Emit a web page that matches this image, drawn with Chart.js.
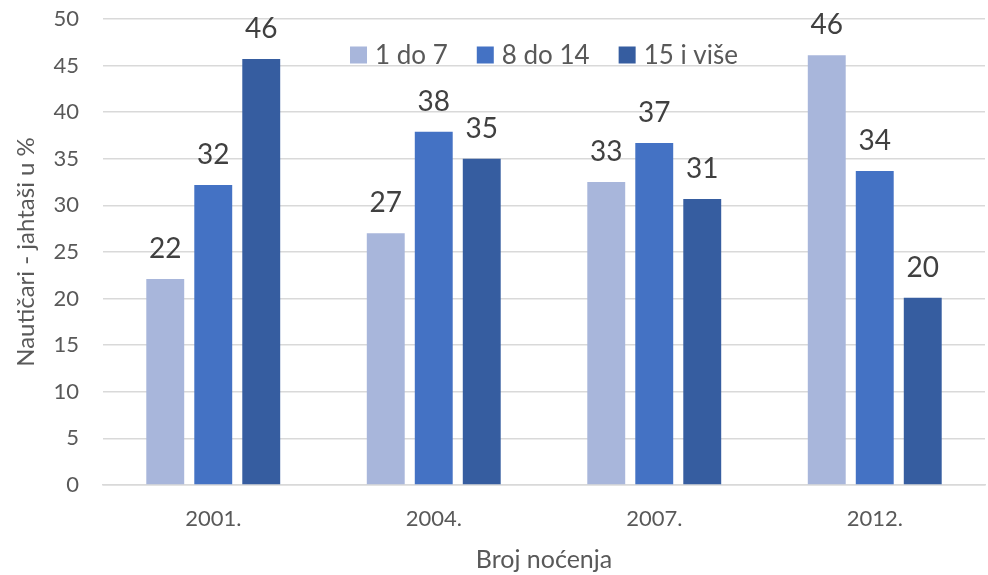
<!DOCTYPE html>
<html>
<head>
<meta charset="utf-8">
<script src="https://cdn.jsdelivr.net/npm/chart.js@4/dist/chart.umd.min.js"></script>
<style>
html,body{margin:0;padding:0;background:#fff;}
#wrap{width:988px;height:575px;position:relative;}
</style>
</head>
<body>
<div id="wrap"><canvas id="c" width="988" height="575"></canvas></div>
<script>
const categories = ['2001.', '2004.', '2007.', '2012.'];
const seriesNames = ['1 do 7', '8 do 14', '15 i više'];
const series1 = [22.1, 27.0, 32.5, 46.1];
const series2 = [32.2, 37.9, 36.7, 33.7];
const series3 = [45.7, 35.0, 30.7, 20.1];
const yTicks = [0, 5, 10, 15, 20, 25, 30, 35, 40, 45, 50];
const colors = ['#A8B6DB', '#4472C4', '#365DA0'];
const FONT = 'Lato, "Open Sans", sans-serif';

const valueLabels = {
  id: 'valueLabels',
  afterDatasetsDraw(chart) {
    const ctx = chart.ctx;
    ctx.save();
    ctx.font = '28px ' + FONT;
    ctx.fillStyle = '#404040';
    ctx.textAlign = 'center';
    ctx.textBaseline = 'alphabetic';
    chart.data.datasets.forEach((ds, i) => {
      const meta = chart.getDatasetMeta(i);
      meta.data.forEach((el, j) => {
        ctx.fillText(String(Math.round(ds.data[j])), el.x, el.y - 21);
      });
    });
    ctx.restore();
  }
};

const customLegend = {
  id: 'customLegend',
  afterDraw(chart) {
    const ctx = chart.ctx;
    const area = chart.chartArea;
    ctx.save();
    ctx.font = '26px ' + FONT;
    const box = 17, gapText = 8, gapItem = 29;
    const items = chart.data.datasets.map(d => ({label: d.label, color: d.backgroundColor, w: ctx.measureText(d.label).width}));
    let total = 0;
    items.forEach((it, k) => { total += box + gapText + it.w + (k < items.length - 1 ? gapItem : 0); });
    let x = (area.left + area.right) / 2 - total / 2;
    const cy = 55;
    items.forEach(it => {
      ctx.fillStyle = it.color;
      ctx.fillRect(x, cy - box / 2, box, box);
      x += box + gapText;
      ctx.fillStyle = '#595959';
      ctx.textAlign = 'left';
      ctx.textBaseline = 'middle';
      ctx.fillText(it.label, x, cy + 1);
      x += it.w + gapItem;
    });
    ctx.restore();
  }
};

new Chart(document.getElementById('c'), {
  type: 'bar',
  data: {
    labels: categories,
    datasets: [
      {label: seriesNames[0], data: series1, backgroundColor: colors[0]},
      {label: seriesNames[1], data: series2, backgroundColor: colors[1]},
      {label: seriesNames[2], data: series3, backgroundColor: colors[2]}
    ]
  },
  options: {
    responsive: false,
    animation: false,
    layout: {padding: {top: 19, right: 3, left: 0, bottom: 0}},
    datasets: {bar: {categoryPercentage: 0.653, barPercentage: 0.79}},
    plugins: {legend: {display: false}, tooltip: {enabled: false}},
    scales: {
      x: {
        grid: {display: false, drawTicks: false},
        border: {display: true, color: '#D9D9D9', width: 1.5},
        ticks: {font: {family: FONT, size: 22}, color: '#595959', padding: 21},
        title: {display: true, text: 'Broj noćenja', font: {family: FONT, size: 25}, color: '#595959', padding: {top: 12, bottom: 0}},
        afterFit(s) { s.height = 90; s.paddingLeft = 0; s.paddingRight = 0; }
      },
      y: {
        min: 0, max: 50,
        afterBuildTicks(s) { s.ticks = yTicks.map(v => ({value: v})); },
        grid: {color: '#D9D9D9', lineWidth: 1.5, drawTicks: false},
        border: {display: false},
        ticks: {font: {family: FONT, size: 22}, color: '#595959', padding: 24},
        title: {display: true, text: 'Nautičari - jahtaši u %', font: {family: FONT, size: 24}, color: '#595959', padding: {top: 12, bottom: 0}},
        afterFit(s) { s.width = 103; s.paddingTop = 0; s.paddingBottom = 0; }
      }
    }
  },
  plugins: [valueLabels, customLegend]
});
</script>
</body>
</html>
